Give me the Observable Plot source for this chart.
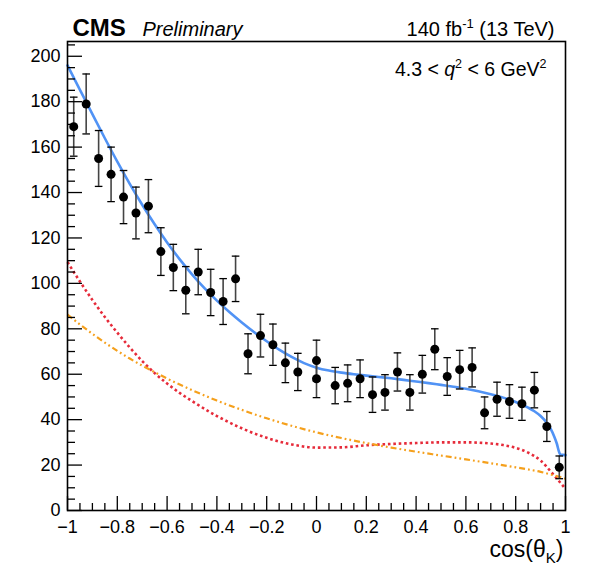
<!DOCTYPE html>
<html>
<head>
<meta charset="utf-8">
<script src="https://cdn.jsdelivr.net/npm/d3@7"></script>
<script src="https://cdn.jsdelivr.net/npm/@observablehq/plot@0.6"></script>
<style>
  html, body { margin: 0; padding: 0; background: #fff; }
</style>
</head>
<body>
<div id="chart"></div>
<script>
// ---- data points (cos theta_K bins) ----
const binX = [-0.975,-0.925,-0.875,-0.825,-0.775,-0.725,-0.675,-0.625,-0.575,-0.525,
              -0.475,-0.425,-0.375,-0.325,-0.275,-0.225,-0.175,-0.125,-0.075,0,
              0,0.075,0.125,0.175,0.225,0.275,0.325,0.375,0.425,0.475,
              0.525,0.575,0.625,0.675,0.725,0.775,0.825,0.875,0.925,0.975];
const counts = [169,179,155,148,138,131,134,114,107,97,
                105,96,92,102,69,77,73,65,61,66,
                58,55,56,58,51,52,61,52,60,71,
                59,62,63,43,49,48,47,53,37,19];
const errors = [13,13.2,12.3,12,11.7,11.4,11.7,10.5,10.2,10.4,
                10,10.2,10.1,10,8.8,9.4,9.1,8.7,8.2,9,
                8.3,8,8.1,8.3,7.8,7.8,8.4,7.8,8.3,9,
                8.3,8.5,8.6,7,7.5,7.4,7.3,7.8,6.6,5];

// ---- total fit (blue) ----
const totalX = [-1,-0.95,-0.9,-0.85,-0.8,-0.75,-0.7,-0.65,-0.6,-0.55,-0.5,-0.45,-0.4,-0.35,-0.3,-0.25,-0.2,-0.15,-0.1,-0.05,
                0,0.05,0.1,0.15,0.2,0.25,0.3,0.35,0.4,0.45,0.5,0.55,0.6,0.65,0.7,0.75,0.8,0.85,0.875,0.9,0.925,0.94,0.955,0.965,0.975,0.98,1];
const totalY = [196,185.2,174.5,163.9,153.6,143.8,134.6,126,118,110.7,104,97.9,92.4,87.4,82.8,78.5,74.5,70.8,67.6,64.9,
                62.9,61.6,60.7,60,59.4,58.8,58.2,57.5,56.8,56.1,55.3,54.5,53.6,52.5,51.2,49.7,47.8,45.3,43.7,41.6,38.6,36,32.5,29.5,25.5,24.6,24.4];

// ---- component 1 (red dotted) ----
const comp1X = [-1,-0.95,-0.9,-0.85,-0.8,-0.75,-0.7,-0.65,-0.6,-0.55,-0.5,-0.4,-0.3,-0.2,-0.1,0,0.1,0.2,0.3,0.4,0.5,0.6,0.7,0.75,0.8,0.85,0.9,0.95,1];
const comp1Y = [109.4,100.8,92.7,85.2,78.3,71.8,65.8,60.5,55.9,51.8,48.2,41.6,36.2,32,29.1,27.7,27.8,28.7,29.3,29.7,30,30,29.5,28.8,27.6,25.5,22,16,9.5];

// ---- component 2 (orange dash-dot) ----
const comp2X = [-1,-0.95,-0.9,-0.85,-0.8,-0.75,-0.7,-0.65,-0.6,-0.5,-0.4,-0.3,-0.2,-0.1,0,0.1,0.2,0.3,0.4,0.5,0.6,0.7,0.8,0.9,0.95,1];
const comp2Y = [86.3,81.9,77.8,73.9,70.3,66.9,63.8,60.9,58.1,53,48.4,44.3,40.6,37.3,34.4,31.9,29.7,27.7,25.9,24.2,22.5,20.8,19,17,15.6,14];

// ---- ticks ----
const xMajorTicks = [-1,-0.8,-0.6,-0.4,-0.2,0,0.2,0.4,0.6,0.8,1];
const xMinorTicks = [-0.95,-0.9,-0.85,-0.75,-0.7,-0.65,-0.55,-0.5,-0.45,-0.35,-0.3,-0.25,-0.15,-0.1,-0.05,
                     0.05,0.1,0.15,0.25,0.3,0.35,0.45,0.5,0.55,0.65,0.7,0.75,0.85,0.9,0.95];
const yMajorTicks = [0,20,40,60,80,100,120,140,160,180,200];
const yMinorTicks = [5,10,15,25,30,35,45,50,55,65,70,75,85,90,95,105,110,115,125,130,135,145,150,155,165,170,175,185,190,195,205];

// ---- texts ----
const cmsText = "CMS";
const prelimText = "Preliminary";
const lumiText = "140 fb-1 (13 TeV)";
const rangeText = "4.3 < q2 < 6 GeV2";
const xTitle = "cos(θK)";

const points = binX.map((x, i) => ({x, y: counts[i], e: errors[i]}));
const total = totalX.map((x, i) => ({x, y: totalY[i]}));
const comp1 = comp1X.map((x, i) => ({x, y: comp1Y[i]}));
const comp2 = comp2X.map((x, i) => ({x, y: comp2Y[i]}));

const cap = {draw(ctx) { ctx.moveTo(-3.8, 0); ctx.lineTo(3.8, 0); }};
const fmt = d => String(d).replace("-", "\u2212");

const chart = Plot.plot({
  width: 589,
  height: 565,
  marginLeft: 67,
  marginRight: 24,
  marginTop: 41,
  marginBottom: 55,
  style: {fontFamily: "'Liberation Sans', Arial, Helvetica, sans-serif", fontSize: "18px", color: "black", background: "white", overflow: "visible"},
  x: {domain: [-1, 1]},
  y: {domain: [0, 206.5]},
  marks: [
    Plot.line(comp1, {x: "x", y: "y", stroke: "#e62b3a", strokeWidth: 2.6, strokeDasharray: "2.6,2.8", strokeLinecap: "butt", curve: "monotone-x"}),
    Plot.line(comp2, {x: "x", y: "y", stroke: "#f5a01c", strokeWidth: 2.2, strokeDasharray: "6,3,1.8,3,1.8,3", strokeLinecap: "butt", curve: "monotone-x"}),
    Plot.line(total, {x: "x", y: "y", stroke: "#5193f5", strokeWidth: 2.6, curve: "monotone-x"}),
    Plot.ruleX(points, {x: "x", y1: d => d.y - d.e, y2: d => d.y + d.e, stroke: "#444", strokeWidth: 1.6}),
    Plot.dot(points, {x: "x", y: d => d.y + d.e, symbol: cap, stroke: "black", fill: "none", strokeWidth: 1.3}),
    Plot.dot(points, {x: "x", y: d => d.y - d.e, symbol: cap, stroke: "black", fill: "none", strokeWidth: 1.3}),
    Plot.dot(points, {x: "x", y: "y", r: 4.5, fill: "black"}),
    Plot.axisY({ticks: yMinorTicks, tickSize: -8, fill: "none", strokeWidth: 1.3, label: null}),
    Plot.axisY({ticks: yMajorTicks, tickSize: -15, fill: "none", strokeWidth: 1.3, label: null}),
    Plot.axisY({ticks: yMajorTicks, tickSize: 0, tickPadding: 7, tickFormat: fmt, fontSize: 18, label: null}),
    Plot.axisX({ticks: xMinorTicks, tickSize: -7, fill: "none", strokeWidth: 1.3, label: null}),
    Plot.axisX({ticks: xMajorTicks, tickSize: -14, fill: "none", strokeWidth: 1.3, label: null}),
    Plot.axisX({ticks: xMajorTicks, tickSize: 0, tickPadding: 10, tickFormat: fmt, fontSize: 18, label: null}),
    Plot.frame({stroke: "black", strokeWidth: 1.6}),
    Plot.text([cmsText], {text: d => d, frameAnchor: "top-left", dx: 5, dy: -6, lineAnchor: "bottom", textAnchor: "start", fontSize: 24, fontWeight: "bold"}),
    Plot.text([prelimText], {text: d => d, frameAnchor: "top-left", dx: 75, dy: -6, lineAnchor: "bottom", textAnchor: "start", fontSize: 20, fontStyle: "italic"}),
    Plot.text([lumiText], {text: d => d, frameAnchor: "top-right", dx: -11, dy: -6, lineAnchor: "bottom", textAnchor: "end", fontSize: 20}),
    Plot.text([rangeText], {text: d => d, frameAnchor: "top-right", dx: -19, dy: 34, lineAnchor: "bottom", textAnchor: "end", fontSize: 19.5}),
    Plot.text([xTitle], {text: d => d, frameAnchor: "bottom-right", dx: -2, dy: 46, lineAnchor: "bottom", textAnchor: "end", fontSize: 23})
  ]
});

const rich = {};
rich[lumiText] = '140 fb<tspan dy="-8" font-size="13">-1</tspan><tspan dy="8"> (13 TeV)</tspan>';
rich[rangeText] = '4.3 &lt; <tspan font-style="italic">q</tspan><tspan dy="-8" font-size="12.5">2</tspan><tspan dy="8"> &lt; 6 GeV</tspan><tspan dy="-8" font-size="12.5">2</tspan>';
rich[xTitle] = 'cos(θ<tspan dy="6" font-size="15">K</tspan><tspan dy="-6">)</tspan>';
d3.select(chart).selectAll("text").each(function() {
  const t = this.textContent;
  if (rich[t] !== undefined) this.innerHTML = rich[t];
});

document.getElementById("chart").appendChild(chart);
</script>
</body>
</html>
